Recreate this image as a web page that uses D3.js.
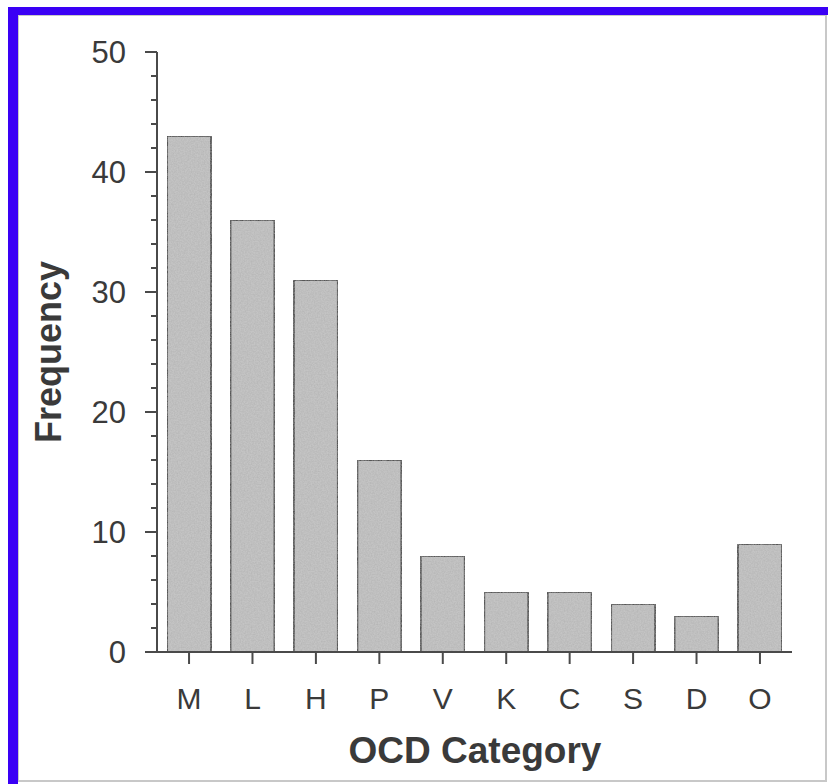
<!DOCTYPE html>
<html>
<head>
<meta charset="utf-8">
<script src="https://cdn.jsdelivr.net/npm/d3@7"></script>
<style>
  html, body { margin: 0; padding: 0; background: #fff; }
  svg { display: block; }
  text { font-family: "Liberation Sans", Arial, Helvetica, sans-serif; fill: #3a3a3a; }
</style>
</head>
<body>
<script>
const categories = ["M", "L", "H", "P", "V", "K", "C", "S", "D", "O"];
const frequencies = [43, 36, 31, 16, 8, 5, 5, 4, 3, 9];
const yTicks = [0, 10, 20, 30, 40, 50];
const yMinorTicks = d3.range(0, 51, 2);
const xTitle = "OCD Category";
const yTitle = "Frequency";

const W = 828, H = 784;
const svg = d3.select("body").append("svg").attr("width", W).attr("height", H);

// frame
svg.append("rect").attr("x", 0).attr("y", 0).attr("width", W).attr("height", H).attr("fill", "#fff");
svg.append("rect").attr("x", 18).attr("y", 15).attr("width", 808).attr("height", 766)
  .attr("fill", "none").attr("stroke", "#c8c8c8").attr("stroke-width", 2);
svg.append("rect").attr("x", 8).attr("y", 7).attr("width", 10).attr("height", H - 7).attr("fill", "#3a00f5");
svg.append("rect").attr("x", 8).attr("y", 7).attr("width", W - 8).attr("height", 8).attr("fill", "#3a00f5");

// texture filter for stippled bars
const defs = svg.append("defs");
const f = defs.append("filter").attr("id", "stipple").attr("x", 0).attr("y", 0).attr("width", 1).attr("height", 1);
f.append("feTurbulence").attr("type", "fractalNoise").attr("baseFrequency", 0.7).attr("numOctaves", 2).attr("seed", 3).attr("result", "noise");
f.append("feColorMatrix").attr("in", "noise").attr("type", "matrix")
  .attr("values", "0 0 0 0 0.4  0 0 0 0 0.4  0 0 0 0 0.4  0 0 0 0.9 -0.25").attr("result", "dots");
f.append("feComposite").attr("in", "dots").attr("in2", "SourceGraphic").attr("operator", "in").attr("result", "dotsIn");
f.append("feMerge").selectAll("feMergeNode").data(["SourceGraphic", "dotsIn"]).enter()
  .append("feMergeNode").attr("in", d => d);

const x0 = 157, x1 = 792, yBottom = 652, yTop = 52;
const x = d3.scaleBand().domain(categories).range([x0, x1]).paddingInner(0.306).paddingOuter(0.158);
const y = d3.scaleLinear().domain([0, 50]).range([yBottom, yTop]);

// bars
svg.append("g").selectAll("rect").data(categories).enter().append("rect")
  .attr("x", d => x(d))
  .attr("y", (d, i) => y(frequencies[i]))
  .attr("width", x.bandwidth())
  .attr("height", (d, i) => y(0) - y(frequencies[i]))
  .attr("fill", "#c4c4c4")
  .attr("filter", "url(#stipple)")
  .attr("stroke", "#555").attr("stroke-width", 2);

const axisColor = "#4a4a4a";

// y axis
const gy = svg.append("g").attr("transform", `translate(${x0},0)`);
gy.append("line").attr("x1", 0).attr("x2", 0).attr("y1", y(50)).attr("y2", y(0))
  .attr("stroke", axisColor).attr("stroke-width", 2);
gy.selectAll(".minor").data(yMinorTicks.filter(v => v % 10 !== 0)).enter().append("line")
  .attr("x1", -6).attr("x2", 0).attr("y1", d => y(d)).attr("y2", d => y(d))
  .attr("stroke", axisColor).attr("stroke-width", 2);
gy.selectAll(".major").data(yTicks).enter().append("line")
  .attr("x1", -12).attr("x2", 0).attr("y1", d => y(d)).attr("y2", d => y(d))
  .attr("stroke", axisColor).attr("stroke-width", 2);
gy.selectAll(".lab").data(yTicks).enter().append("text")
  .attr("x", -31).attr("y", d => y(d)).attr("dy", "0.36em")
  .attr("text-anchor", "end").attr("font-size", 31)
  .text(d => d);

// x axis
const gx = svg.append("g").attr("transform", `translate(0,${yBottom})`);
gx.append("line").attr("x1", 145).attr("x2", x1).attr("y1", 0).attr("y2", 0)
  .attr("stroke", axisColor).attr("stroke-width", 2);
gx.selectAll(".tick").data(categories).enter().append("line")
  .attr("x1", d => x(d) + x.bandwidth() / 2).attr("x2", d => x(d) + x.bandwidth() / 2)
  .attr("y1", 0).attr("y2", 12)
  .attr("stroke", axisColor).attr("stroke-width", 2);
gx.selectAll(".lab").data(categories).enter().append("text")
  .attr("x", d => x(d) + x.bandwidth() / 2).attr("y", 57)
  .attr("text-anchor", "middle").attr("font-size", 30)
  .text(d => d);

// titles
svg.append("text").attr("x", 475).attr("y", 763)
  .attr("text-anchor", "middle").attr("font-size", 37).attr("font-weight", "bold")
  .attr("fill", "#222").text(xTitle);
svg.append("text").attr("transform", "translate(61,352) rotate(-90)")
  .attr("text-anchor", "middle").attr("font-size", 36).attr("font-weight", "bold")
  .attr("fill", "#222").text(yTitle);
</script>
</body>
</html>
